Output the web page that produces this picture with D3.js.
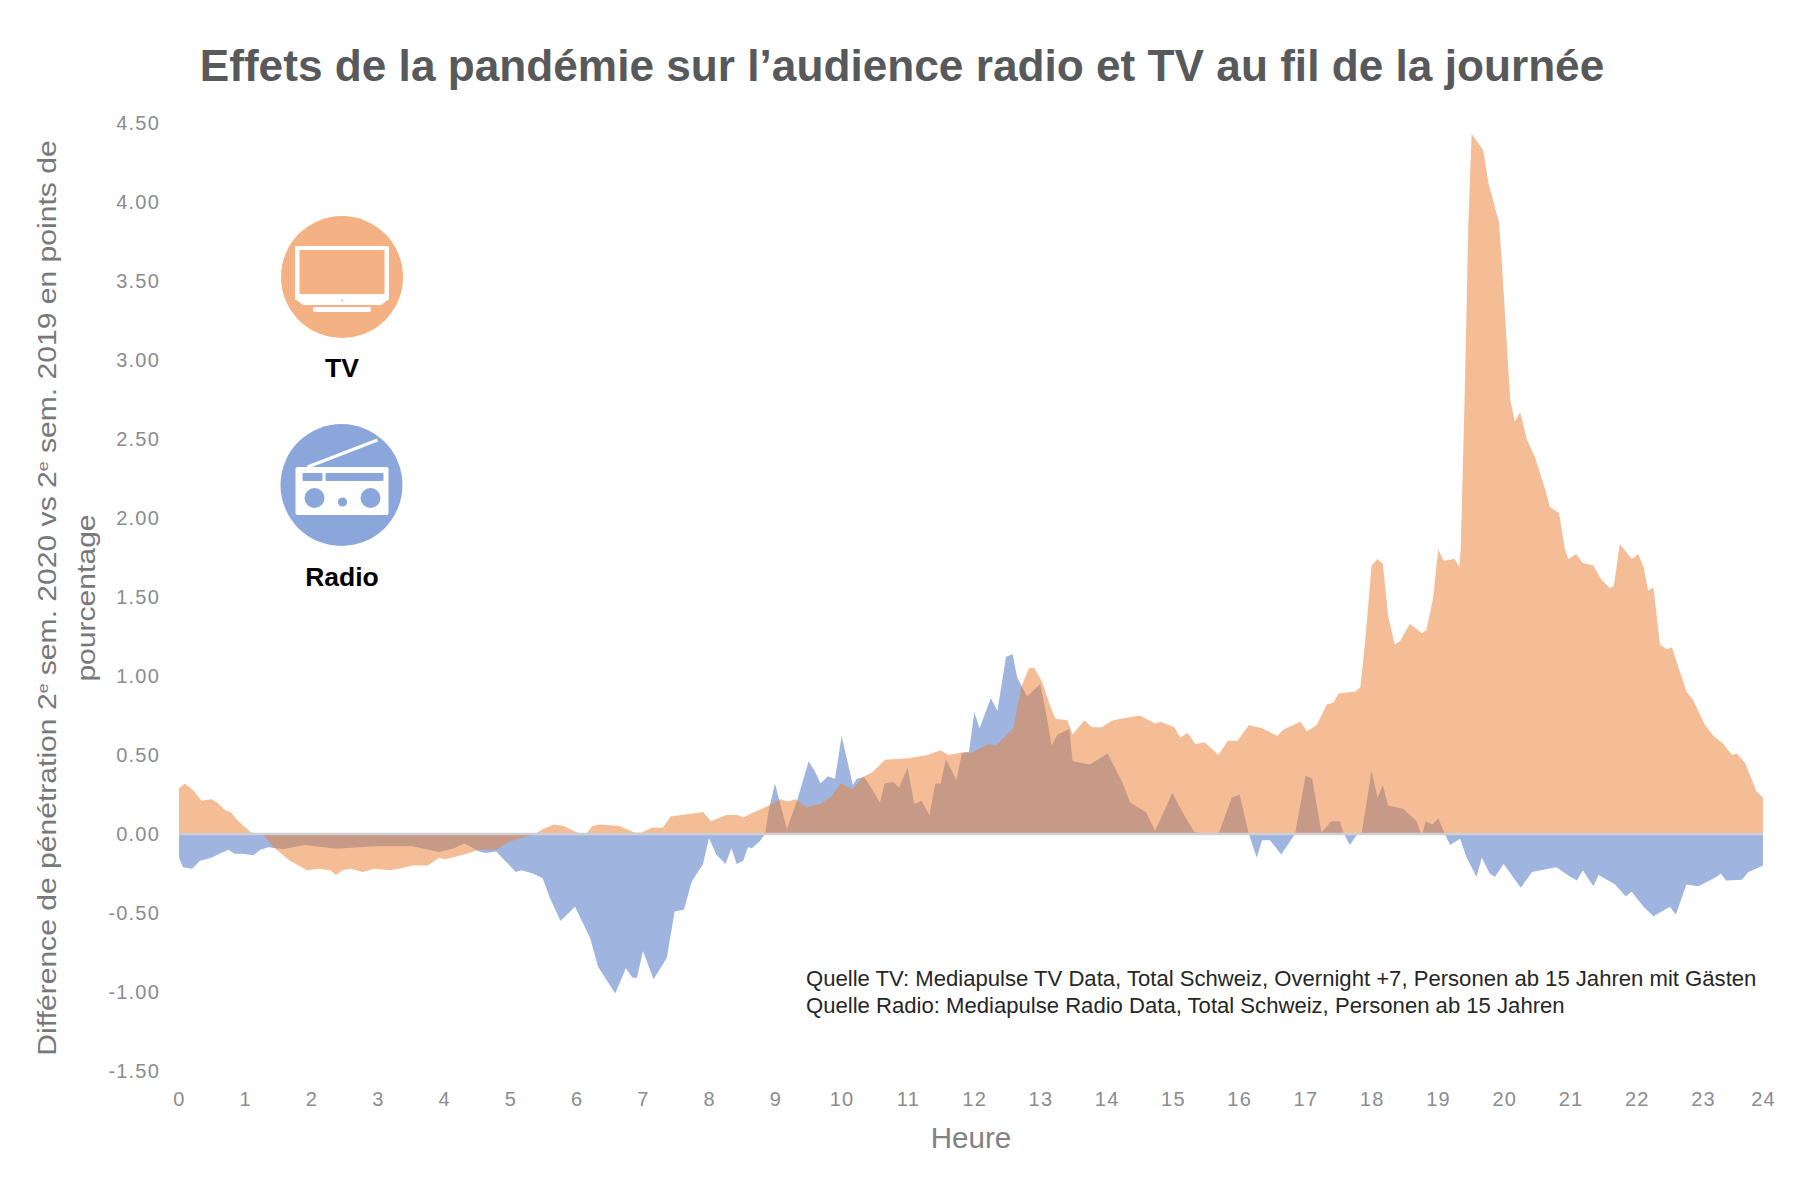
<!DOCTYPE html>
<html>
<head>
<meta charset="utf-8">
<script src="https://cdn.jsdelivr.net/npm/d3@7"></script>
<style>
  body { margin: 0; background: #fff; }
  text { font-family: "Liberation Sans", sans-serif; }
</style>
</head>
<body>
<div id="chart"></div>
<script>
// Values
const tvHours = [0, 0.09, 0.23, 0.34, 0.49, 0.58, 0.70, 0.78, 0.90, 1.09, 1.26, 1.45, 1.68, 1.94, 2.12, 2.29, 2.38, 2.48, 2.61, 2.78, 2.96, 3.19, 3.33, 3.54, 3.77, 3.94, 4.03, 4.32, 4.55, 4.81, 4.99, 5.39,
  5.51, 5.68, 5.83, 6.03, 6.17, 6.26, 6.38, 6.67, 6.90, 7.01, 7.16, 7.33, 7.45, 7.94, 8.06, 8.29, 8.46, 8.55, 8.67, 8.88, 9.11, 9.22, 9.34, 9.51, 9.72, 9.89, 10.02, 10.21, 10.36, 10.50, 10.70, 11.05, 11.34, 11.54, 11.66, 11.92, 11.98, 12.27, 12.38, 12.56, 12.64, 12.76, 12.88, 12.96, 13.08, 13.20, 13.28, 13.46, 13.54, 13.72, 13.83, 13.98, 14.15, 14.56, 14.79, 14.88, 15.08, 15.17, 15.28, 15.40, 15.54, 15.75, 15.89, 16.04, 16.21, 16.41, 16.64, 16.73, 16.99, 17.09, 17.24, 17.39, 17.49, 17.57, 17.82, 17.90, 17.97, 18.07, 18.16, 18.24, 18.32, 18.42, 18.50, 18.65, 18.83, 18.90, 19.00, 19.08, 19.16, 19.33, 19.40, 19.42, 19.485, 19.535, 19.585, 19.74, 19.76, 19.84, 20.00, 20.04, 20.17, 20.24, 20.32, 20.42, 20.55, 20.70, 20.77, 20.91, 21.00, 21.05, 21.17, 21.27, 21.43, 21.55, 21.68, 21.74, 21.83, 22.01, 22.11, 22.19, 22.26, 22.34, 22.44, 22.54, 22.62, 22.84, 22.94, 23.12, 23.25, 23.40, 23.53, 23.60, 23.73, 23.90, 24];
const tvValues = [0.29, 0.32, 0.27, 0.21, 0.22, 0.20, 0.15, 0.14, 0.08, 0.01, 0, -0.09, -0.17, -0.23, -0.22, -0.23, -0.26, -0.23, -0.22, -0.24, -0.22, -0.23, -0.22, -0.20, -0.20, -0.15, -0.16, -0.13, -0.10, -0.10, -0.05, 0,
  0.03, 0.06, 0.05, 0.01, 0, 0.05, 0.06, 0.05, 0.01, 0.01, 0.04, 0.04, 0.11, 0.14, 0.08, 0.12, 0.12, 0.105, 0.13, 0.17, 0.22, 0.205, 0.22, 0.17, 0.19, 0.24, 0.32, 0.285, 0.36, 0.39, 0.47, 0.48, 0.50, 0.53, 0.50, 0.52, 0.51, 0.57, 0.56, 0.64, 0.665, 0.93, 1.05, 1.05, 0.96, 0.81, 0.73, 0.72, 0.63, 0.72, 0.675, 0.675, 0.72, 0.75, 0.70, 0.71, 0.675, 0.61, 0.64, 0.57, 0.58, 0.50, 0.59, 0.59, 0.69, 0.67, 0.62, 0.66, 0.71, 0.65, 0.69, 0.82, 0.83, 0.89, 0.90, 0.93, 1.21, 1.70, 1.74, 1.71, 1.38, 1.20, 1.22, 1.33, 1.27, 1.29, 1.49, 1.80, 1.73, 1.74, 1.69, 1.80, 2.86, 3.85, 4.43, 4.34, 4.33, 4.12, 3.87, 3.64, 2.75, 2.61, 2.67, 2.50, 2.38, 2.18, 2.07, 2.03, 1.80, 1.74, 1.77, 1.715, 1.70, 1.61, 1.555, 1.57, 1.835, 1.74, 1.77, 1.69, 1.54, 1.56, 1.20, 1.17, 1.18, 0.90, 0.85, 0.69, 0.62, 0.57, 0.50, 0.51, 0.45, 0.27, 0.23];

const radioHours = [0, 0.06, 0.20, 0.32, 0.49, 0.64, 0.75, 0.84, 0.96, 1.13, 1.23, 1.36, 1.57, 1.91, 2.38, 2.96, 3.54, 3.94, 4.17, 4.32, 4.46, 4.55, 4.64, 4.81, 4.87, 4.99, 5.10, 5.19, 5.36, 5.51, 5.62, 5.78, 6.00, 6.14, 6.23, 6.35, 6.61, 6.77, 6.87, 6.94, 7.03, 7.19, 7.39, 7.51, 7.65, 7.77, 7.94, 8.03, 8.14, 8.28, 8.37, 8.45, 8.55, 8.62, 8.68, 8.80, 8.88, 8.93, 9.03, 9.21, 9.37, 9.54, 9.63, 9.72, 9.83, 9.94, 10.04, 10.21, 10.27, 10.38, 10.50, 10.62, 10.69, 10.82, 10.91, 11.04, 11.14, 11.25, 11.37, 11.46, 11.54, 11.62, 11.78, 11.86, 11.97, 12.05, 12.13, 12.30, 12.40, 12.53, 12.63, 12.70, 12.85, 13.05, 13.14, 13.22, 13.31, 13.49, 13.54, 13.80, 14.07, 14.30, 14.41, 14.65, 14.79, 15.05, 15.25, 15.39, 15.75, 15.95, 16.07, 16.21, 16.33, 16.41, 16.53, 16.70, 16.91, 17.07, 17.17, 17.31, 17.46, 17.59, 17.64, 17.74, 17.84, 17.92, 18.07, 18.16, 18.24, 18.32, 18.55, 18.75, 18.83, 18.89, 18.99, 19.08, 19.18, 19.26, 19.41, 19.51, 19.66, 19.74, 19.86, 19.94, 20.07, 20.33, 20.50, 20.87, 21.08, 21.18, 21.27, 21.43, 21.51, 21.76, 21.92, 22.01, 22.19, 22.34, 22.59, 22.68, 22.84, 23.02, 23.30, 23.36, 23.44, 23.68, 23.78, 24];
const radioValues = [-0.15, -0.21, -0.22, -0.17, -0.15, -0.12, -0.10, -0.125, -0.125, -0.135, -0.10, -0.084, -0.097, -0.07, -0.093, -0.078, -0.078, -0.114, -0.09, -0.06, -0.09, -0.11, -0.12, -0.11, -0.14, -0.19, -0.24, -0.23, -0.25, -0.28, -0.405, -0.55, -0.46, -0.58, -0.66, -0.84, -1.01, -0.85, -0.91, -0.91, -0.74, -0.92, -0.785, -0.49, -0.48, -0.30, -0.19, -0.025, -0.13, -0.19, -0.09, -0.19, -0.17, -0.084, -0.09, -0.046, 0, 0.14, 0.32, 0.03, 0.22, 0.46, 0.40, 0.32, 0.365, 0.35, 0.62, 0.31, 0.35, 0.36, 0.285, 0.20, 0.32, 0.33, 0.295, 0.42, 0.19, 0.21, 0.12, 0.32, 0.32, 0.475, 0.34, 0.51, 0.52, 0.77, 0.67, 0.86, 0.78, 1.12, 1.14, 0.99, 0.87, 0.95, 0.76, 0.56, 0.63, 0.665, 0.46, 0.44, 0.51, 0.32, 0.20, 0.14, 0.02, 0.26, 0.105, 0.01, 0, 0.23, 0.25, 0, -0.15, -0.04, -0.04, -0.13, 0, 0.37, 0.35, 0.01, 0.08, 0.08, 0.01, -0.07, -0.01, 0.01, 0.40, 0.23, 0.31, 0.18, 0.16, 0.08, -0.01, 0.08, 0.06, 0.10, 0, -0.07, -0.03, -0.15, -0.27, -0.15, -0.25, -0.27, -0.19, -0.34, -0.24, -0.21, -0.27, -0.295, -0.23, -0.33, -0.26, -0.32, -0.395, -0.365, -0.46, -0.52, -0.46, -0.51, -0.32, -0.33, -0.27, -0.25, -0.295, -0.29, -0.24, -0.20];

const yTicks = [-1.5, -1, -0.5, 0, 0.5, 1, 1.5, 2, 2.5, 3, 3.5, 4, 4.5];
const xTicks = d3.range(0, 25);

const titleText = "Effets de la pandémie sur l’audience radio et TV au fil de la journée";
const sourceLines = [
  "Quelle TV: Mediapulse TV Data, Total Schweiz, Overnight +7, Personen ab 15 Jahren mit Gästen",
  "Quelle Radio: Mediapulse Radio Data, Total Schweiz, Personen ab 15 Jahren"
];

const svg = d3.select("#chart").append("svg")
  .attr("width", 1800)
  .attr("height", 1179);

// Scales
const x = d3.scaleLinear().domain([0, 24]).range([179, 1763]);
const y = d3.scaleLinear().domain([-1.5, 4.5]).range([1071, 123]);

// Labels in the original sit a bit off the data: 0-23 evenly, then a shorter last step
const xLabels = d3.scaleLinear().domain([0, 23, 24]).range([179, 1703, 1763]);

const area = d3.area()
  .x(d => x(d.h))
  .y0(y(0))
  .y1(d => y(d.v));

const tvData = tvHours.map((h, i) => ({ h: h, v: tvValues[i] }));
const radioData = radioHours.map((h, i) => ({ h: h, v: radioValues[i] }));

// Radio first, TV semi transparent on top gives the brown overlap
svg.append("path").datum(radioData)
  .attr("fill", "#9fb5df")
  .attr("d", area);

svg.append("path").datum(tvData)
  .attr("fill", "#ec8035")
  .attr("fill-opacity", 0.52)
  .attr("d", area);

// Zero line
svg.append("line")
  .attr("x1", x(0)).attr("x2", x(24))
  .attr("y1", y(0)).attr("y2", y(0))
  .attr("stroke", "#cfd0d2")
  .attr("stroke-width", 2.5);

// Axes
const xAxis = svg.append("g")
  .attr("transform", "translate(0,1092)")
  .call(d3.axisBottom(xLabels).tickValues(xTicks).tickSize(0).tickFormat(d3.format("d")));

const yAxis = svg.append("g")
  .attr("transform", "translate(160,0)")
  .call(d3.axisLeft(y).tickValues(yTicks).tickSize(0).tickFormat(d => d.toFixed(2)));

[xAxis, yAxis].forEach(g => {
  g.select(".domain").remove();
  g.selectAll("text")
    .attr("fill", "#8a8c8f")
    .style("font-size", "20px")
    .style("font-family", "'Liberation Sans', sans-serif")
    .style("letter-spacing", "1.2px");
});
yAxis.selectAll("text").attr("x", 0);
xAxis.selectAll("text").attr("y", 0).attr("dy", "0.71em");

// Title
svg.append("text")
  .attr("x", 902).attr("y", 81)
  .attr("text-anchor", "middle")
  .attr("fill", "#58595b")
  .attr("font-weight", "bold")
  .attr("font-size", 44.2)
  .text(titleText);

// Axis titles
svg.append("text")
  .attr("x", 971).attr("y", 1148)
  .attr("text-anchor", "middle")
  .attr("fill", "#808285")
  .attr("font-size", 29.5)
  .text("Heure");

// Stretched along its length, the original text is wider than the font
const yTitle = svg.append("g")
  .attr("transform", "translate(56,598) rotate(-90) scale(1.18,1)");

const line1 = yTitle.append("text")
  .attr("text-anchor", "middle")
  .attr("fill", "#77787b")
  .attr("font-size", 25.5);
line1.append("tspan").text("Différence de pénétration 2");
line1.append("tspan").attr("dy", -8).attr("font-size", 15).text("e");
line1.append("tspan").attr("dy", 8).text(" sem. 2020 vs  2");
line1.append("tspan").attr("dy", -8).attr("font-size", 15).text("e");
line1.append("tspan").attr("dy", 8).text(" sem. 2019 en points de");

yTitle.append("text")
  .attr("y", 39)
  .attr("text-anchor", "middle")
  .attr("fill", "#77787b")
  .attr("font-size", 25.5)
  .text("pourcentage");

// Source note
svg.selectAll(".source")
  .data(sourceLines)
  .enter().append("text")
  .attr("class", "source")
  .attr("x", 806)
  .attr("y", (d, i) => 986 + i * 26.5)
  .attr("fill", "#262626")
  .attr("font-size", 22.1)
  .text(d => d);

// TV icon
const tvIcon = svg.append("g").attr("transform", "translate(342,277)");
tvIcon.append("circle").attr("r", 61).attr("fill", "#f4b183");
tvIcon.append("rect").attr("x", -47).attr("y", -31).attr("width", 94).attr("height", 54).attr("fill", "#fff");
tvIcon.append("rect").attr("x", -42.5).attr("y", -27).attr("width", 85).attr("height", 44).attr("fill", "#f4b183");
tvIcon.append("path").attr("d", "M-47,22H47L39,28H-39Z").attr("fill", "#fff");
tvIcon.append("circle").attr("cy", 23.5).attr("r", 1).attr("fill", "#f4b183");
tvIcon.append("rect").attr("x", -29).attr("y", 30).attr("width", 58).attr("height", 5).attr("rx", 2).attr("fill", "#fff");

svg.append("text")
  .attr("x", 342).attr("y", 377)
  .attr("text-anchor", "middle")
  .attr("font-weight", "bold")
  .attr("font-size", 26.5)
  .attr("fill", "#000")
  .text("TV");

// Radio icon
const radioIcon = svg.append("g").attr("transform", "translate(342.5,485)");
radioIcon.append("circle").attr("cx", -1).attr("r", 61).attr("fill", "#8aa6da");
radioIcon.append("line")
  .attr("x1", -35).attr("y1", -18).attr("x2", 35).attr("y2", -45)
  .attr("stroke", "#fff").attr("stroke-width", 3);
radioIcon.append("rect").attr("x", -47).attr("y", -18).attr("width", 93).attr("height", 48).attr("rx", 2).attr("fill", "#fff");
radioIcon.append("rect").attr("x", -40).attr("y", -12).attr("width", 20).attr("height", 8).attr("rx", 1).attr("fill", "#8aa6da");
radioIcon.append("rect").attr("x", -17).attr("y", -12).attr("width", 58).attr("height", 8).attr("rx", 1).attr("fill", "#8aa6da");
radioIcon.append("circle").attr("cx", -28).attr("cy", 13).attr("r", 10).attr("fill", "#8aa6da");
radioIcon.append("circle").attr("cx", 28).attr("cy", 13).attr("r", 10).attr("fill", "#8aa6da");
radioIcon.append("circle").attr("cx", 0).attr("cy", 17).attr("r", 4.6).attr("fill", "#8aa6da");

svg.append("text")
  .attr("x", 342).attr("y", 586)
  .attr("text-anchor", "middle")
  .attr("font-weight", "bold")
  .attr("font-size", 26.5)
  .attr("fill", "#000")
  .text("Radio");
</script>
</body>
</html>
